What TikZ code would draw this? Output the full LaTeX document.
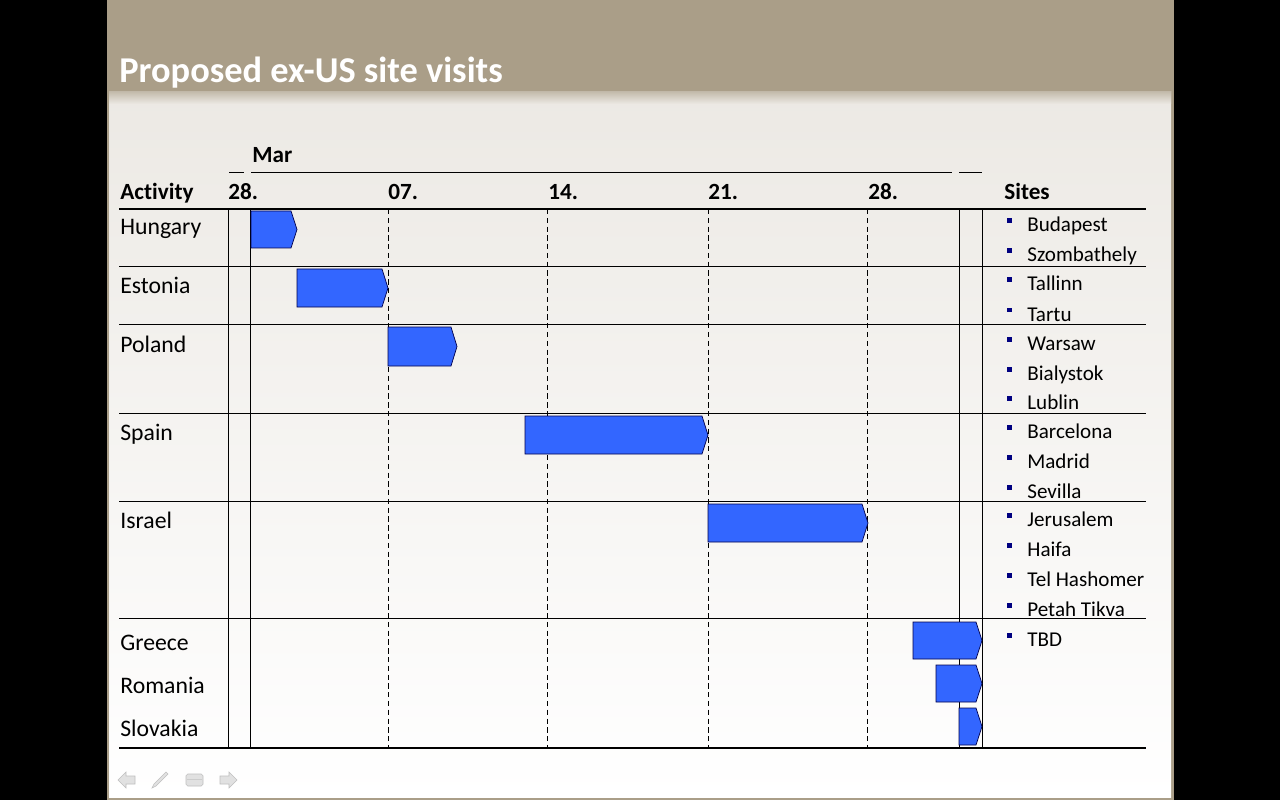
\documentclass[tikz,border=0pt]{standalone}
\usepackage{fontspec}
\setmainfont{Carlito}[Ligatures=NoCommon]

\definecolor{headbeige}{RGB}{170,158,136}
\definecolor{barblue}{RGB}{51,102,255}
\definecolor{bulletnavy}{RGB}{0,0,128}
\definecolor{bodytop}{RGB}{236,233,228}
\definecolor{navgray}{RGB}{225,225,225}

\begin{document}
\begin{tikzpicture}[
    x=0.02cm, y=-0.02cm,
    txt/.style={anchor=base west, inner sep=0pt, font=\fontsize{12}{14}\selectfont},
    act/.style={txt, font=\fontsize{13.5}{16}\selectfont},
    head/.style={txt, font=\fontsize{13.2}{16}\selectfont\bfseries},
    bullet/.style={fill=bulletnavy, minimum size=0.1cm, inner sep=0pt},
    rule/.style={line width=1.2pt},
    sep/.style={line width=0.5pt},
    weekline/.style={line width=0.5pt, dash pattern=on 3pt off 2pt},
    bar/.style={draw=black!70!blue, fill=barblue, line width=0.4pt},
    navicon/.style={fill=navgray, draw=gray!50, line width=0.3pt}
  ]

  % slide frame and background
  \fill[black] (0,0) rectangle (1280,800);
  \fill[headbeige] (107,0) rectangle (1174,800);
  \shade[top color=bodytop, bottom color=white] (109,92) rectangle (1171,797);
  \shade[top color=headbeige!60!bodytop, bottom color=bodytop] (109,92) rectangle (1171,104);
  \useasboundingbox (0,0) rectangle (1280,800);

  % title
  \node[anchor=base west, inner sep=0pt, text=white, font=\fontsize{20.7}{24}\selectfont\bfseries]
    (title) at (119,83) {Proposed ex-US site visits};

  % month header
  \node[head] (mar) at (252,163) {Mar};
  \draw[sep] (229,172) -- (244,172);
  \draw[sep] (251,172) -- (952,172);
  \draw[sep] (959,172) -- (982,172);

  % column header
  \node[head] (activity) at (120,200) {Activity};
  \node[head] (w28a) at (228,200) {28.};
  \node[head] (w07) at (388,200) {07.};
  \node[head] (w14) at (548,200) {14.};
  \node[head] (w21) at (708,200) {21.};
  \node[head] (w28b) at (868,200) {28.};
  \node[head] (sites) at (1004,200) {Sites};

  % grid
  \draw[rule] (119,209) -- (1146,209);
  \draw[sep] (119,266) -- (1146,266);
  \draw[sep] (119,324) -- (1146,324);
  \draw[sep] (119,413) -- (1146,413);
  \draw[sep] (119,501) -- (1146,501);
  \draw[sep] (119,618) -- (1146,618);
  \draw[sep] (228,209) -- (228,748);
  \draw[sep] (250,209) -- (250,748);
  \draw[sep] (959,209) -- (959,748);
  \draw[sep] (982,209) -- (982,748);
  \draw[weekline] (388,209) -- (388,748);
  \draw[weekline] (547,209) -- (547,748);
  \draw[weekline] (708,209) -- (708,748);
  \draw[weekline] (867,209) -- (867,748);

  % activities
  \node[act] (hungary) at (120,235) {Hungary};
  \node[act] (estonia) at (120,294) {Estonia};
  \node[act] (poland) at (120,352) {Poland};
  \node[act] (spain) at (120,440) {Spain};
  \node[act] (israel) at (120,528) {Israel};
  \node[act] (greece) at (120,650) {Greece};
  \node[act] (romania) at (120,693) {Romania};
  \node[act] (slovakia) at (120,736) {Slovakia};

  % bars
  \draw[bar] (251,211) -- (291,211) -- (297,229.5) -- (291,248) -- (251,248) -- cycle;
  \draw[bar] (297,269) -- (382,269) -- (388,288) -- (382,307) -- (297,307) -- cycle;
  \draw[bar] (388,327) -- (451,327) -- (457,346.5) -- (451,366) -- (388,366) -- cycle;
  \draw[bar] (525,416) -- (702,416) -- (708,435) -- (702,454) -- (525,454) -- cycle;
  \draw[bar] (708,504) -- (862,504) -- (868,523) -- (862,542) -- (708,542) -- cycle;
  \draw[bar] (913,622) -- (976,622) -- (982,640.5) -- (976,659) -- (913,659) -- cycle;
  \draw[bar] (936,665) -- (976,665) -- (982,683.5) -- (976,702) -- (936,702) -- cycle;
  \draw[bar] (959,708) -- (976,708) -- (982,726.5) -- (976,745) -- (959,745) -- cycle;

  \draw[rule] (119,748) -- (1146,748);

  % sites
  \node[bullet] (b1) at (1009,221) {};
  \node[txt] (budapest) at (1027,232) {Budapest};
  \node[bullet] (b2) at (1009,251) {};
  \node[txt] (szombathely) at (1027,262) {Szombathely};
  \node[bullet] (b3) at (1009,280) {};
  \node[txt] (tallinn) at (1027,291) {Tallinn};
  \node[bullet] (b4) at (1009,310) {};
  \node[txt] (tartu) at (1027,321) {Tartu};
  \node[bullet] (b5) at (1009,339) {};
  \node[txt] (warsaw) at (1027,350) {Warsaw};
  \node[bullet] (b6) at (1009,369) {};
  \node[txt] (bialystok) at (1027,380) {Bialystok};
  \node[bullet] (b7) at (1009,398) {};
  \node[txt] (lublin) at (1027,409) {Lublin};
  \node[bullet] (b8) at (1009,427) {};
  \node[txt] (barcelona) at (1027,438) {Barcelona};
  \node[bullet] (b9) at (1009,457) {};
  \node[txt] (madrid) at (1027,468) {Madrid};
  \node[bullet] (b10) at (1009,487) {};
  \node[txt] (sevilla) at (1027,498) {Sevilla};
  \node[bullet] (b11) at (1009,515) {};
  \node[txt] (jerusalem) at (1027,526) {Jerusalem};
  \node[bullet] (b12) at (1009,545) {};
  \node[txt] (haifa) at (1027,556) {Haifa};
  \node[bullet] (b13) at (1009,575) {};
  \node[txt] (telhashomer) at (1027,586) {Tel Hashomer};
  \node[bullet] (b14) at (1009,605) {};
  \node[txt] (petahtikva) at (1027,616) {Petah Tikva};
  \node[bullet] (b15) at (1009,635) {};
  \node[txt] (tbd) at (1027,646) {TBD};

  % slide show controls
  \draw[navicon] (118,780) -- (126,772) -- (126,776) -- (135,776) -- (135,784) -- (126,784) -- (126,788) -- cycle;
  \draw[navicon] (152,788) -- (154,784) -- (166,772) -- (168,774) -- (156,786) -- cycle;
  \draw[navicon, rounded corners=1pt] (186,774) rectangle (203,786);
  \draw[gray!40] (187,779) -- (202,779);
  \draw[navicon] (237,780) -- (229,772) -- (229,776) -- (220,776) -- (220,784) -- (229,784) -- (229,788) -- cycle;

\end{tikzpicture}
\end{document}
